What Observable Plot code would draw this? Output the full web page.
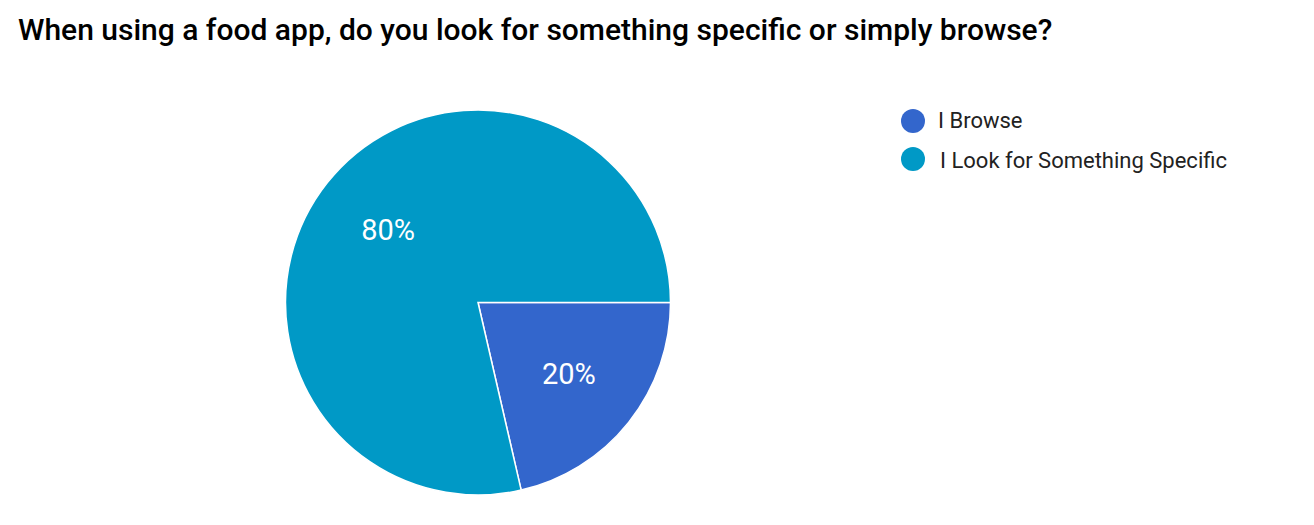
<!DOCTYPE html>
<html><head><meta charset="utf-8">
<script src="https://cdn.jsdelivr.net/npm/d3@7"></script>
<script src="https://cdn.jsdelivr.net/npm/@observablehq/plot@0.6"></script>
<style>
html,body{margin:0;padding:0;background:#fff;}
body{width:1314px;height:525px;position:relative;overflow:hidden;font-family:Roboto,"Noto Sans",sans-serif;}
#title{position:absolute;left:18px;top:15px;font-size:30px;font-weight:500;line-height:30px;color:#000;white-space:nowrap;}
#chart{position:absolute;left:0;top:60px;}
#legend{position:absolute;left:0;top:0;}
.sw{position:absolute;width:24px;height:24px;border-radius:50%;}
.lt{position:absolute;font-size:22px;line-height:22px;color:#222;white-space:nowrap;}
</style></head><body>
<div id="title">When using a food app, do you look for something specific or simply browse?</div>
<div id="chart"></div>
<div id="legend"></div>
<script>
const categories = ["I Browse", "I Look for Something Specific"];
const values = [21.4, 78.6];
const labels = ["20%", "80%"];
const colors = ["#3366cc", "#0099c6"];

const data = categories.map((c, i) => ({category: c, value: values[i], label: labels[i]}));
const arcs = d3.pie().sort(null).value(d => d.value)
  .startAngle(Math.PI / 2).endAngle(Math.PI / 2 + 2 * Math.PI)(data);
const labelPos = arcs.map(a => {
  const m = (a.startAngle + a.endAngle) / 2;
  return {label: a.data.label, x: 0.6 * Math.sin(m), y: 0.6 * Math.cos(m)};
});
const colorFallback = d3.scaleOrdinal(categories, colors);

const pieMark = (index, scales) => {
  const cx = scales.x(0), cy = scales.y(0), r = scales.x(1) - scales.x(0);
  const color = scales.color || colorFallback;
  const g = d3.create("svg:g").attr("transform", `translate(${cx},${cy})`);
  const arc = d3.arc().innerRadius(0).outerRadius(r);
  g.selectAll("path").data(arcs).join("path")
    .attr("d", arc)
    .attr("fill", d => color(d.data.category))
    .attr("stroke", "#fff").attr("stroke-width", 1.5);
  return g.node();
};

const svg = Plot.plot({
  width: 1314, height: 465,
  marginLeft: 285.5, marginRight: 643.5, marginTop: 50, marginBottom: 30,
  x: {domain: [-1, 1], axis: null},
  y: {domain: [-1, 1], axis: null},
  color: {domain: categories, range: colors},
  style: {fontFamily: "Roboto, sans-serif", background: "transparent"},
  marks: [
    pieMark,
    Plot.text(labelPos, {x: "x", y: "y", text: "label", fill: "#fff", fontSize: 29})
  ]
});
document.getElementById("chart").appendChild(svg);

const legend = d3.select("#legend");
const legendY = [121, 159];
const legendBase = [128, 168];
const legendX = [938, 940];
categories.forEach((c, i) => {
  legend.append("div").attr("class", "sw")
    .style("left", (913 - 12) + "px").style("top", (legendY[i] - 12) + "px")
    .style("background", colors[i]);
  legend.append("div").attr("class", "lt")
    .style("left", legendX[i] + "px").style("top", (legendBase[i] - 18.5) + "px")
    .text(c);
});
</script>
</body></html>
